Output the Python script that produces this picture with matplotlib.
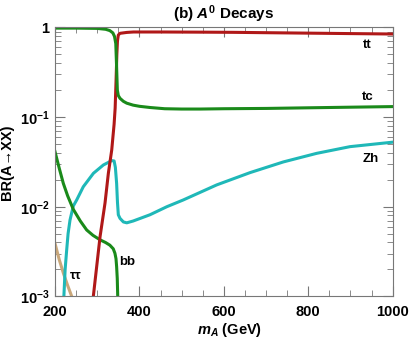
import matplotlib
matplotlib.use("Agg")
import matplotlib.pyplot as plt
from matplotlib.ticker import FixedLocator, MultipleLocator, NullFormatter

# ---- data ----
x_tc = [200, 250, 300, 320, 330, 337, 341, 344, 346, 347.7, 350, 354, 362, 370, 385, 400,
        425, 460, 500, 544, 600, 702, 800, 900, 1000]
br_tc = [0.984, 0.984, 0.977, 0.955, 0.923, 0.871, 0.794, 0.661, 0.355, 0.200, 0.174, 0.162,
         0.150, 0.143, 0.136, 0.132, 0.128, 0.124, 0.123, 0.123, 0.124, 0.125, 0.127, 0.129, 0.131]

x_tt = [288, 290.8, 306.7, 318.5, 326.4, 334.4, 340, 342.5, 344.6, 346.5, 348, 350, 354, 370,
        386, 450, 550, 623, 700, 800, 900, 1000]
br_tt = [0.0008, 0.001, 0.00462, 0.0110, 0.0236, 0.0430, 0.0832, 0.126, 0.251, 0.501, 0.708,
         0.824, 0.861, 0.881, 0.891, 0.891, 0.887, 0.883, 0.875, 0.865, 0.855, 0.846]

x_zh = [220, 221, 224, 227.7, 231, 235.5, 243.4, 251.4, 267, 291, 314.5, 334.4, 340, 343, 346,
        348, 350, 354, 362, 370, 385, 425, 465, 504, 583, 662, 741, 820, 899, 1000]
br_zh = [0.0008, 0.001, 0.0020, 0.00331, 0.00501, 0.00708, 0.0102, 0.0119, 0.0167, 0.0236,
         0.0292, 0.0327, 0.0324, 0.0275, 0.0182, 0.0112, 0.00813, 0.00741, 0.00676, 0.00661,
         0.00692, 0.00813, 0.0100, 0.0119, 0.0175, 0.0240, 0.0316, 0.0394, 0.0468, 0.0525]

x_bb = [200, 210, 219.7, 230, 243.4, 260, 275, 290, 306.7, 320, 330, 338, 342, 344.5, 346,
        347.5, 348.6, 349.2]
br_bb = [0.0411, 0.0269, 0.0182, 0.0132, 0.00933, 0.00692, 0.00550, 0.00479, 0.00427, 0.00398,
         0.00372, 0.00339, 0.00302, 0.00263, 0.00214, 0.00158, 0.001, 0.0008]

x_tau = [200, 210, 219.7, 230, 239.5, 242]
br_tau = [0.00389, 0.00257, 0.00182, 0.00132, 0.001, 0.0008]

x_ticks = [200, 400, 600, 800, 1000]
y_ticks = [1e-3, 1e-2, 1e-1, 1]
y_ticklabels = [r"$\mathbf{10^{-3}}$", r"$\mathbf{10^{-2}}$", r"$\mathbf{10^{-1}}$", "1"]

RED = "#b01818"
GREEN = "#1a8a1a"
CYAN = "#1fb8b8"
TAN = "#c9a77a"

plt.rcParams['font.family'] = ['Liberation Sans', 'DejaVu Sans']
plt.rcParams['mathtext.fontset'] = 'custom'
plt.rcParams['mathtext.rm'] = 'Liberation Sans:bold'
plt.rcParams['mathtext.bf'] = 'Liberation Sans:bold'
plt.rcParams['mathtext.it'] = 'Liberation Sans:bold:italic'

fig = plt.figure(figsize=(4.09, 3.42), dpi=100)
ax = fig.add_axes([0.1345, 0.1336, 0.8255, 0.786])

lw = 2.2
ax.plot(x_tau, br_tau, color=TAN, lw=lw)
ax.plot(x_zh, br_zh, color=CYAN, lw=lw)
ax.plot(x_bb, br_bb, color=GREEN, lw=lw)
ax.plot(x_tt, br_tt, color=RED, lw=lw)
ax.plot(x_tc, br_tc, color=GREEN, lw=lw)

ax.set_yscale('log')
ax.set_xlim(200, 1000)
ax.set_ylim(1e-3, 1)

ax.xaxis.set_major_locator(FixedLocator(x_ticks))
ax.xaxis.set_minor_locator(MultipleLocator(50))
ax.set_xticklabels([str(v) for v in x_ticks], fontweight='bold', fontsize=10.5)
ax.yaxis.set_major_locator(FixedLocator(y_ticks))
ax.set_yticklabels(y_ticklabels, fontweight='bold', fontsize=10.5)
ax.yaxis.set_minor_formatter(NullFormatter())

spine_col = "#777777"
for s in ax.spines.values():
    s.set_color(spine_col)
    s.set_linewidth(0.8)
ax.tick_params(which='both', direction='in', top=True, right=True, color=spine_col)
ax.tick_params(which='major', length=7, width=0.8)
ax.tick_params(axis='x', which='major', pad=6)
ax.tick_params(axis='y', which='major', pad=4)
ax.tick_params(which='minor', length=4, width=0.6)

fig.text(230 / 409, 1 - 330 / 342, r"$m_{A}$ (GeV)", fontweight='bold', fontsize=10.5,
         ha='center', va='center')
ax.set_ylabel("BR(A\u2192XX)", fontweight='bold', fontsize=10.5)
ax.yaxis.set_label_coords(-0.12, 0.5)
ax.set_title(r"(b) $A^0$ Decays", fontweight='bold', fontsize=11, pad=6)

ax.text(940, 0.64, "tt", fontweight='bold', fontsize=9.5, ha='center', va='center')
ax.text(942, 0.168, "tc", fontweight='bold', fontsize=9.5, ha='center', va='center')
ax.text(947, 0.034, "Zh", fontweight='bold', fontsize=9.5, ha='center', va='center')
ax.text(370, 0.00243, "bb", fontweight='bold', fontsize=9.5, ha='center', va='center')
ax.text(250, 0.0017, "\u03c4\u03c4", fontweight='bold', fontsize=9.5, ha='center', va='center')

fig.savefig("out.png", dpi=100)
